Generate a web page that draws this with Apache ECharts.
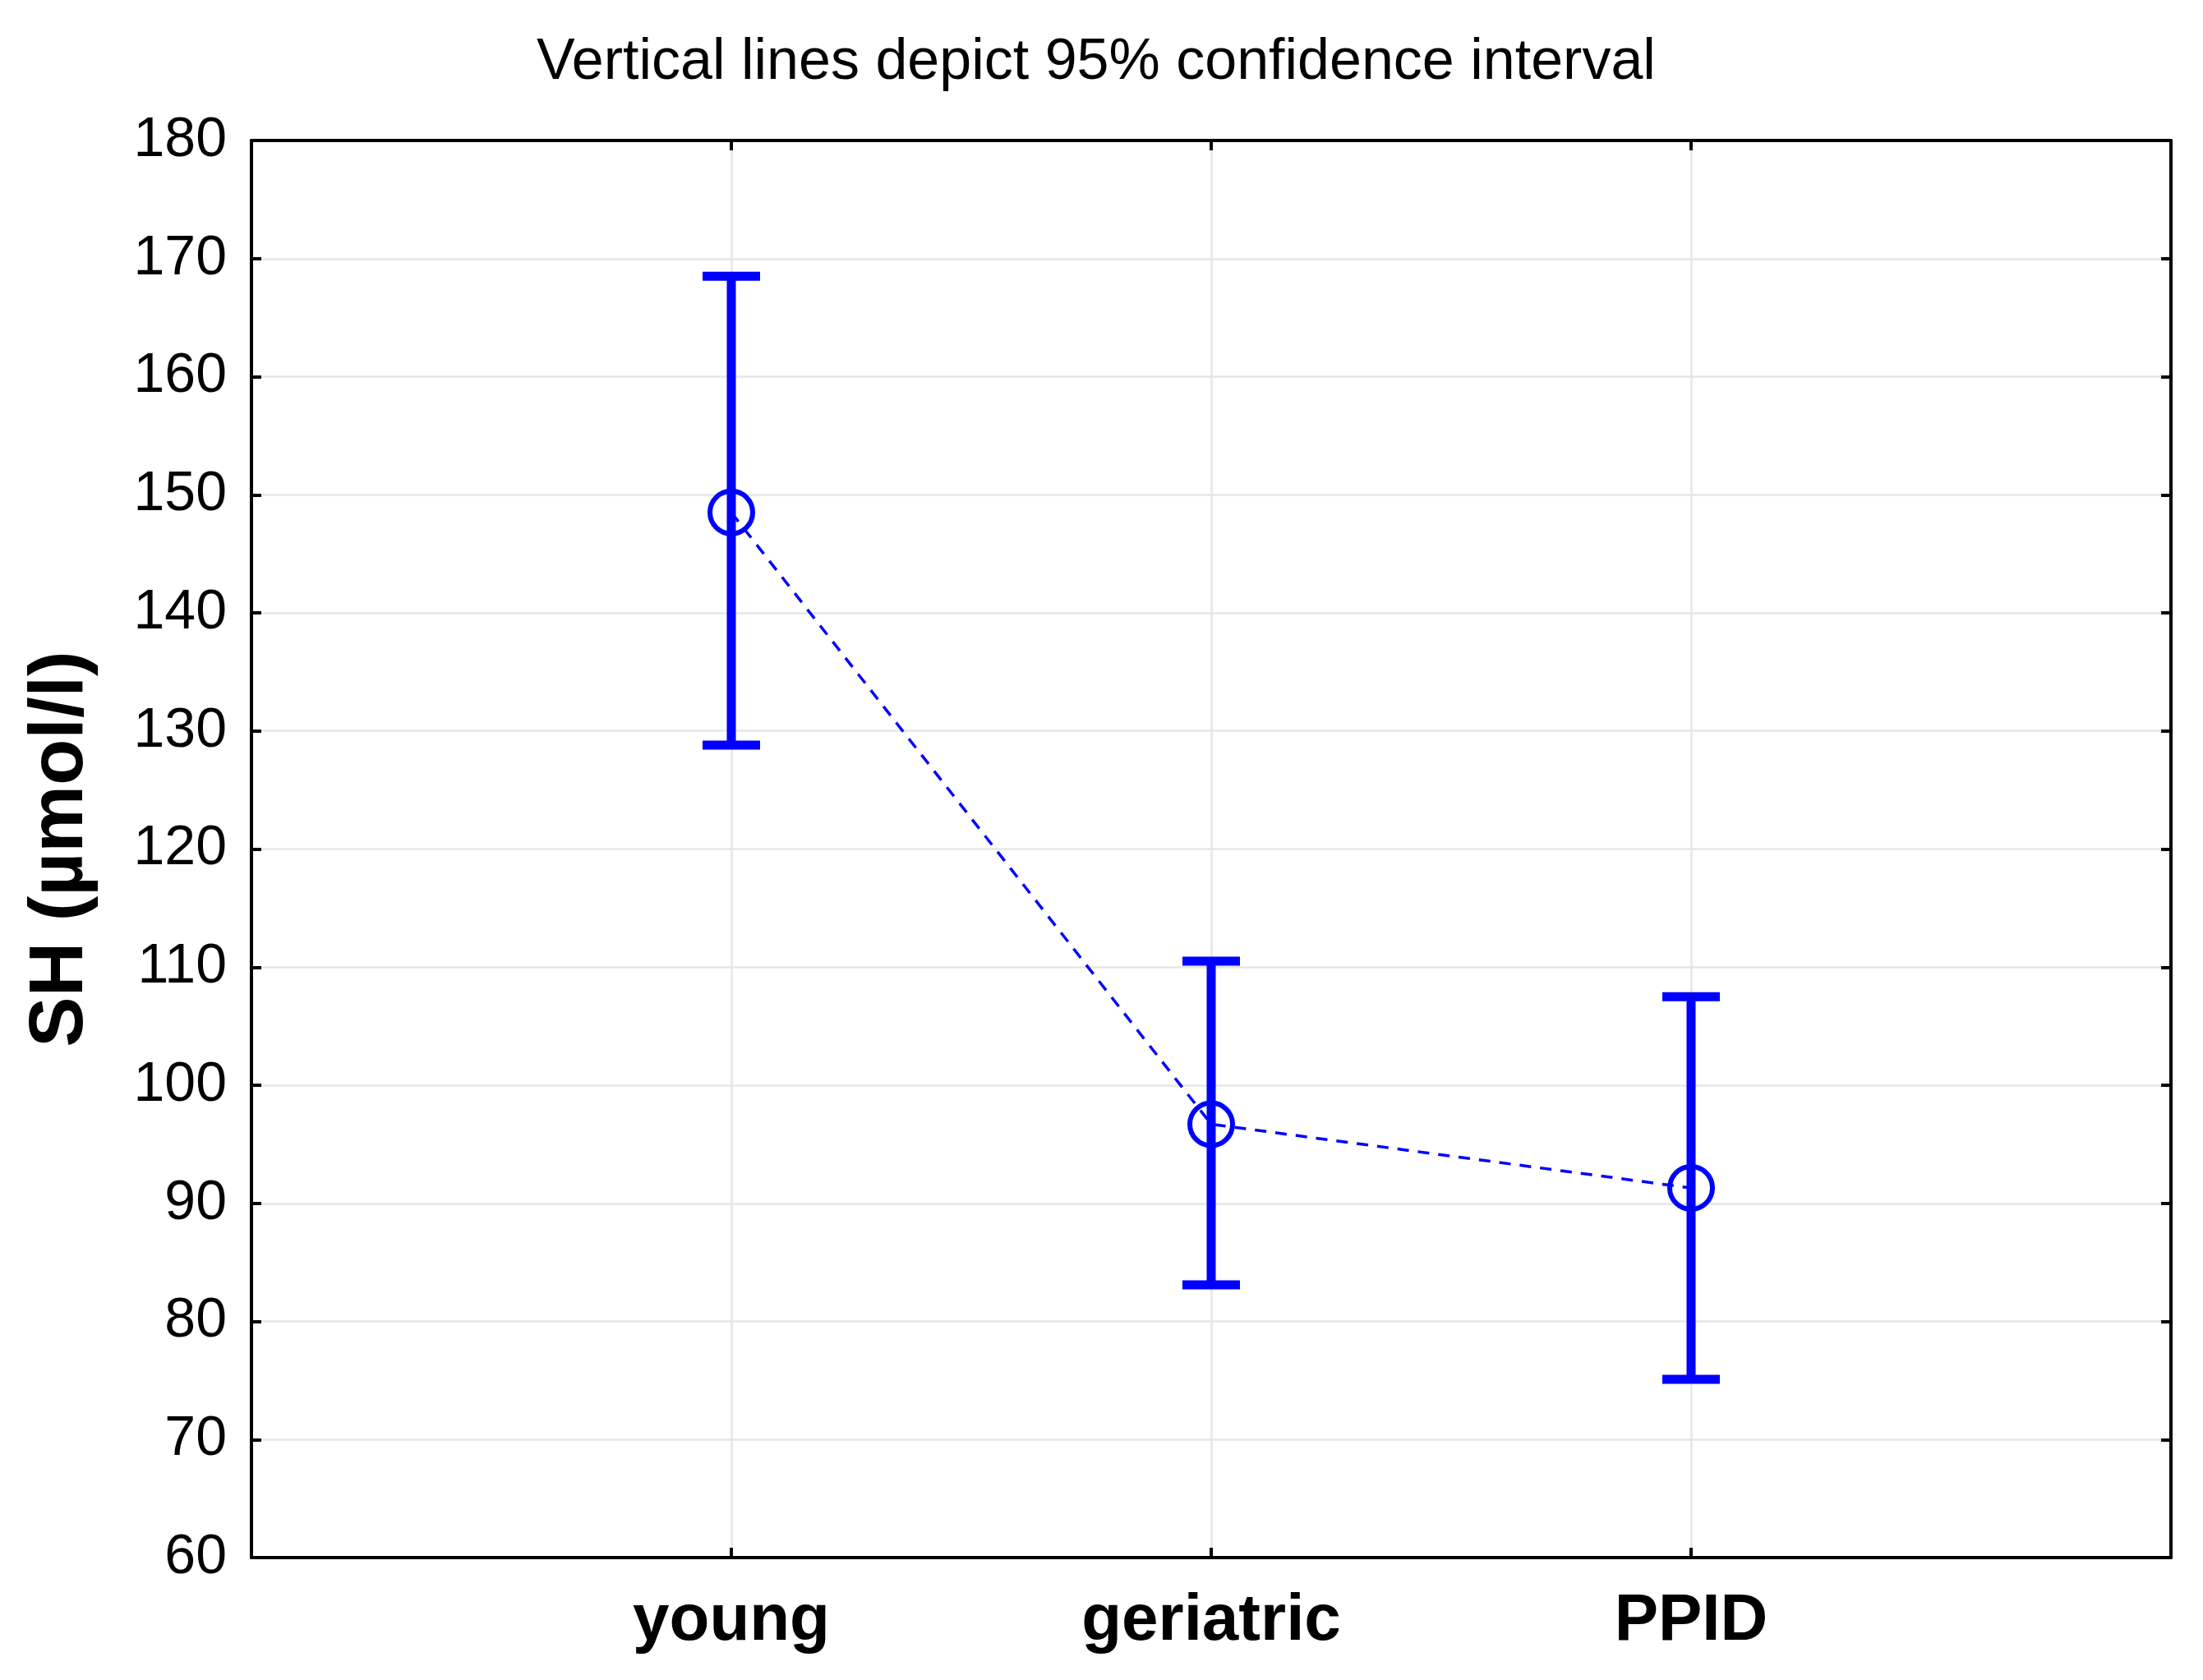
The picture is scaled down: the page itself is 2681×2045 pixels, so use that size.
<!DOCTYPE html>
<html>
<head>
<meta charset="utf-8">
<script src="https://cdn.jsdelivr.net/npm/echarts@6/dist/echarts.min.js"></script>
<style>
  html, body { margin: 0; padding: 0; background: #fff; }
  #chart { width: 2681px; height: 2045px; }
</style>
</head>
<body>
<div id="chart"></div>
<script>
// ---- Data ----
const categories = ['young', 'geriatric', 'PPID'];
const means = [148.5, 96.7, 91.3];
const lowerCI = [128.8, 83.1, 75.1];
const upperCI = [168.5, 110.5, 107.5];
const titleText = 'Vertical lines depict 95% confidence interval';
const yAxisName = 'SH (\u00b5mol/l)';

// ---- Build ----
const FONT = "'Liberation Sans', Arial, Helvetica, sans-serif";
const BLUE = '#0000ff';
const meanData = means.map((m, i) => [i + 1, m]);
const ciData = lowerCI.map((lo, i) => [i + 1, lo, upperCI[i]]);

const chart = echarts.init(document.getElementById('chart'));

const axisLineStyle = { show: true, onZero: false, lineStyle: { color: '#000', width: 4 } };
const tickStyle = { show: true, inside: true, length: 12, lineStyle: { color: '#000', width: 4 } };
const gridLine = { show: true, lineStyle: { color: '#e6e6e6', width: 2.5 } };

const option = {
  backgroundColor: '#fff',
  animation: false,
  title: {
    text: titleText,
    left: 648,
    top: 37,
    textStyle: { fontFamily: FONT, fontSize: 70, fontWeight: 'normal', color: '#000' }
  },
  grid: { left: 306, right: 39, top: 171, bottom: 149, containLabel: false },
  xAxis: [
    {
      type: 'value', min: 0, max: 4, interval: 1, position: 'bottom',
      axisLine: axisLineStyle,
      axisTick: tickStyle,
      splitLine: gridLine,
      axisLabel: {
        show: true, margin: 38,
        fontFamily: FONT, fontSize: 80, fontWeight: 'bold', color: '#000',
        formatter: v => categories[v - 1] || ''
      }
    },
    {
      type: 'value', min: 0, max: 4, interval: 1, position: 'top',
      axisLine: axisLineStyle,
      axisTick: tickStyle,
      splitLine: { show: false },
      axisLabel: { show: false }
    }
  ],
  yAxis: [
    {
      type: 'value', min: 60, max: 180, interval: 10, position: 'left',
      axisLine: axisLineStyle,
      axisTick: tickStyle,
      splitLine: gridLine,
      axisLabel: { margin: 30, fontFamily: FONT, fontSize: 68, color: '#000' },
      name: yAxisName,
      nameLocation: 'middle',
      nameGap: 185,
      nameTextStyle: { fontFamily: FONT, fontSize: 92, fontWeight: 'bold', color: '#000' }
    },
    {
      type: 'value', min: 60, max: 180, interval: 10, position: 'right',
      axisLine: axisLineStyle,
      axisTick: tickStyle,
      splitLine: { show: false },
      axisLabel: { show: false }
    }
  ],
  series: [
    {
      type: 'line',
      data: meanData,
      xAxisIndex: 0, yAxisIndex: 0,
      symbol: 'circle',
      symbolSize: 52,
      itemStyle: { color: 'rgba(0,0,0,0)', borderColor: BLUE, borderWidth: 6 },
      lineStyle: { color: BLUE, width: 3.5, type: [14, 11] },
      z: 3
    },
    {
      type: 'custom',
      data: ciData,
      xAxisIndex: 0, yAxisIndex: 0,
      encode: { x: 0, y: [1, 2] },
      z: 4,
      renderItem: function (params, api) {
        const x = api.value(0);
        const pLo = api.coord([x, api.value(1)]);
        const pHi = api.coord([x, api.value(2)]);
        const half = 35;
        const st = { stroke: BLUE, lineWidth: 11 };
        return {
          type: 'group',
          children: [
            { type: 'line', shape: { x1: pLo[0], y1: pLo[1], x2: pHi[0], y2: pHi[1] }, style: st },
            { type: 'line', shape: { x1: pHi[0] - half, y1: pHi[1], x2: pHi[0] + half, y2: pHi[1] }, style: st },
            { type: 'line', shape: { x1: pLo[0] - half, y1: pLo[1], x2: pLo[0] + half, y2: pLo[1] }, style: st }
          ]
        };
      }
    }
  ]
};
chart.setOption(option);
</script>
</body>
</html>
